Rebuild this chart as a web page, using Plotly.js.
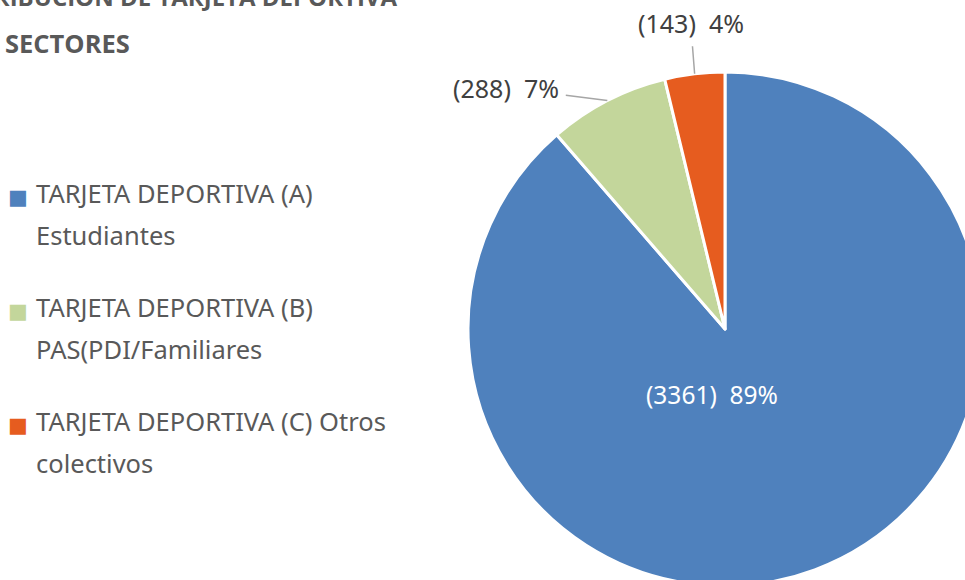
<!DOCTYPE html>
<html>
<head>
<meta charset="utf-8">
<script src="https://cdn.plot.ly/plotly-3.0.1.min.js"></script>
<style>
html, body { margin: 0; padding: 0; background: #ffffff; overflow: hidden; width: 965px; height: 580px; }
#chart { width: 1000px; height: 620px; }
</style>
</head>
<body>
<div id="chart"></div>
<script>
// ---- data ----
const categories = [
  "TARJETA DEPORTIVA (A) Estudiantes",
  "TARJETA DEPORTIVA (B) PAS(PDI/Familiares",
  "TARJETA DEPORTIVA (C) Otros colectivos"
];
const legendLine1 = ["TARJETA DEPORTIVA (A)", "TARJETA DEPORTIVA (B)", "TARJETA DEPORTIVA (C) Otros"];
const legendLine2 = ["Estudiantes", "PAS(PDI/Familiares", "colectivos"];
const values = [3361, 288, 143];
const pctLabels = ["89%", "7%", "4%"];
const colors = ["#4F81BD", "#C3D69B", "#E65C1F"];
const titleLine1 = "DISTRIBUCION DE TARJETA DEPORTIVA";
const titleLine2 = "SECTORES";

// ---- geometry ----
const W = 1000, H = 620;
const cx = 725, cy = 329, R = 257;
const px = x => x / W;
const py = y => 1 - y / H;

const total = values.reduce((a, b) => a + b, 0);
const midAngles = [];
let acc = 0;
values.forEach(v => { midAngles.push((acc + v / 2) / total * 2 * Math.PI); acc += v; });
const edgePoint = i => [cx + R * Math.sin(midAngles[i]), cy - R * Math.cos(midAngles[i])];
const labelText = i => "(" + values[i] + ")\u00a0\u00a0" + pctLabels[i];

const pie = {
  type: "pie",
  labels: categories,
  values: values,
  sort: false,
  direction: "clockwise",
  rotation: 0,
  textinfo: "none",
  hoverinfo: "skip",
  marker: { colors: colors, line: { color: "#ffffff", width: 3 } },
  domain: { x: [(cx - R) / W, (cx + R) / W], y: [(H - cy - R) / H, (H - cy + R) / H] },
  showlegend: false
};

const annotations = [];
const labelFont = { family: "Noto Sans, Open Sans, sans-serif", size: 25, color: "#404040" };

// inside label (largest slice)
annotations.push({
  xref: "paper", yref: "paper", x: px(cx - 13), y: py(cy + 65),
  text: labelText(0), showarrow: false,
  font: Object.assign({}, labelFont, { color: "#ffffff", size: 24.5 }),
  xanchor: "center", yanchor: "middle"
});
// outside labels with leader lines
const offsets = [null, [-101, -13], [-4, -51]];
[1, 2].forEach(i => {
  const p = edgePoint(i);
  annotations.push({
    xref: "paper", yref: "paper", x: px(p[0]), y: py(p[1]),
    ax: offsets[i][0], ay: offsets[i][1],
    text: labelText(i), showarrow: true, arrowhead: 0, arrowwidth: 1.5,
    arrowcolor: "#A6A6A6", startstandoff: 5, standoff: 0,
    font: labelFont, xanchor: "center", yanchor: "middle"
  });
});

// title
const titleFont = { family: "Open Sans, Noto Sans, sans-serif", size: 25.5, color: "#595959", weight: "bold" };
annotations.push({
  xref: "paper", yref: "paper", x: px(399), y: py(-4),
  text: "<b>" + titleLine1 + "</b>", showarrow: false,
  font: Object.assign({}, titleFont, { size: 24 }),
  xanchor: "right", yanchor: "middle"
});
annotations.push({
  xref: "paper", yref: "paper", x: px(3), y: py(43),
  text: "<b>" + titleLine2 + "</b>", showarrow: false, font: titleFont,
  xanchor: "left", yanchor: "middle"
});

// legend
const legendFont = { family: "Noto Sans, Open Sans, sans-serif", size: 25.5, color: "#595959" };
categories.forEach((c, i) => {
  const y0 = 193 + 114 * i;
  annotations.push({
    xref: "paper", yref: "paper", x: px(17.5), y: py(y0 + 4),
    text: "\u25A0", showarrow: false,
    font: { family: "DejaVu Sans", size: 21, color: colors[i] },
    xanchor: "center", yanchor: "middle"
  });
  annotations.push({
    xref: "paper", yref: "paper", x: px(34), y: py(y0),
    text: legendLine1[i], showarrow: false, font: legendFont,
    xanchor: "left", yanchor: "middle"
  });
  annotations.push({
    xref: "paper", yref: "paper", x: px(34), y: py(y0 + 42),
    text: legendLine2[i], showarrow: false, font: legendFont,
    xanchor: "left", yanchor: "middle"
  });
});

const layout = {
  width: W, height: H,
  margin: { l: 0, r: 0, t: 0, b: 0 },
  paper_bgcolor: "#ffffff",
  showlegend: false,
  hovermode: false,
  annotations: annotations
};

Plotly.newPlot("chart", [pie], layout, { displayModeBar: false, staticPlot: true });
</script>
</body>
</html>
